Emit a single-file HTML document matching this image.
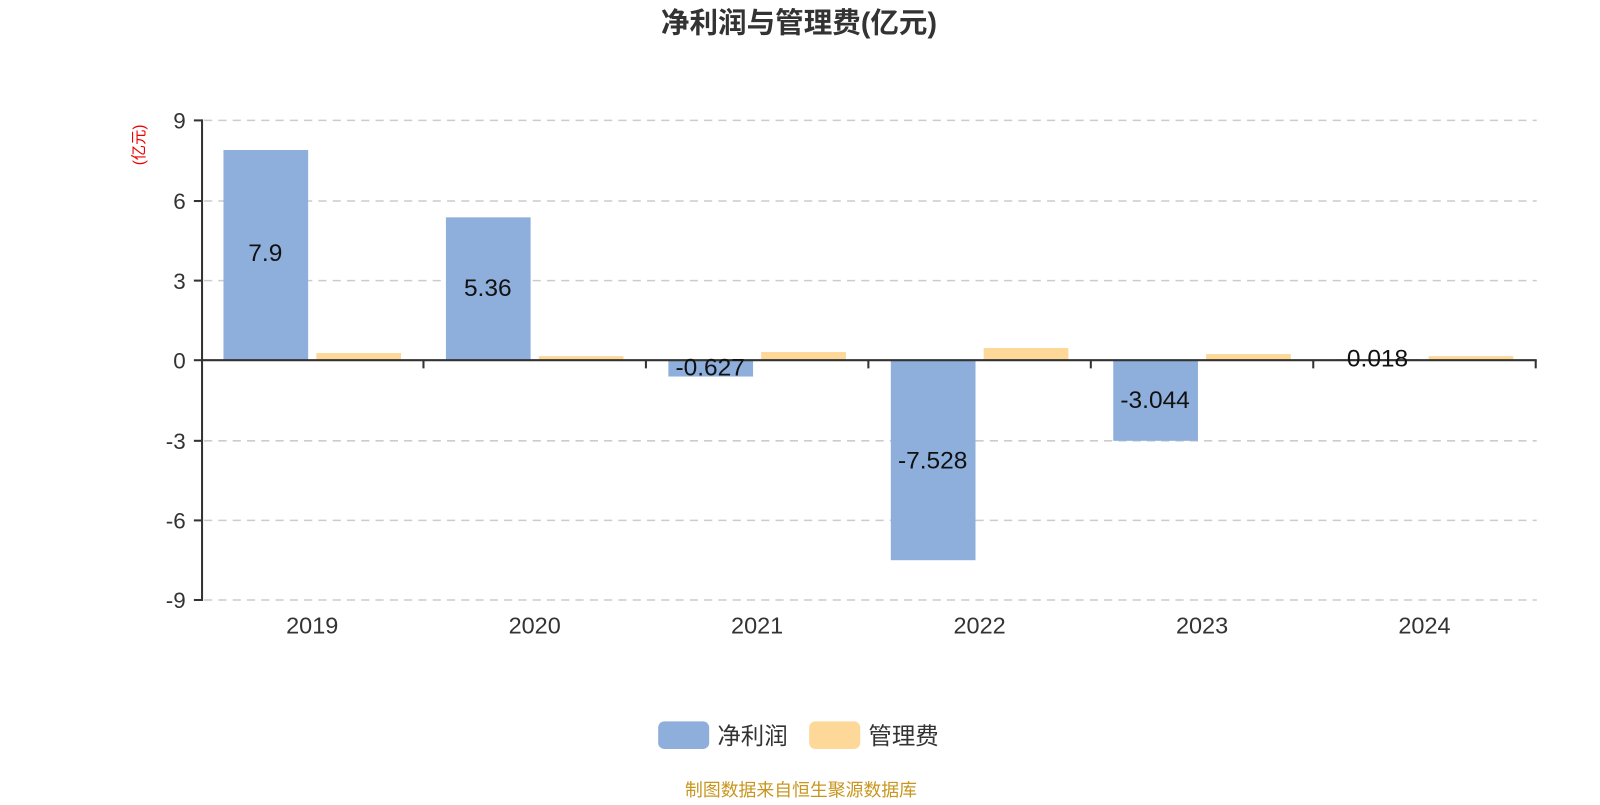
<!DOCTYPE html>
<html><head><meta charset="utf-8"><style>
body{margin:0;background:#fff;}
svg text{font-family:"Liberation Sans","Noto Sans CJK SC",sans-serif;}
</style></head><body>
<svg width="1600" height="800" viewBox="0 0 1568 784" xmlns="http://www.w3.org/2000/svg">
<text x="783" y="32" text-anchor="middle" font-size="28" font-weight="bold" fill="#333">净利润与管理费(亿元)</text>
<text transform="translate(141,142) rotate(-90)" text-anchor="middle" font-size="15" fill="#e00">(亿元)</text>
<g stroke="#ccc" stroke-dasharray="8,6" stroke-width="1.5">
<line x1="200" y1="118" x2="1506" y2="118"/><line x1="200" y1="197" x2="1506" y2="197"/>
<line x1="200" y1="275" x2="1506" y2="275"/><line x1="200" y1="432" x2="1506" y2="432"/>
<line x1="200" y1="510" x2="1506" y2="510"/><line x1="200" y1="588" x2="1506" y2="588"/>
</g>
<g fill="#8eafdb">
<rect x="219" y="147" width="83" height="206"/>
<rect x="437" y="213" width="83" height="140"/>
<rect x="655" y="353" width="83" height="16"/>
<rect x="873" y="353" width="83" height="196"/>
<rect x="1091" y="353" width="83" height="79"/>
<rect x="1309" y="352" width="83" height="1"/>
</g>
<g fill="#fdd898">
<rect x="310" y="346" width="83" height="7"/>
<rect x="528" y="349" width="83" height="4"/>
<rect x="746" y="345" width="83" height="8"/>
<rect x="964" y="341" width="83" height="12"/>
<rect x="1182" y="347" width="83" height="6"/>
<rect x="1400" y="349" width="83" height="4"/>
</g>
<g stroke="#333" stroke-width="2">
<line x1="198" y1="117" x2="198" y2="589"/>
<line x1="197" y1="353" x2="1506" y2="353"/>
<line x1="190" y1="118" x2="198" y2="118"/><line x1="190" y1="197" x2="198" y2="197"/>
<line x1="190" y1="275" x2="198" y2="275"/><line x1="190" y1="353" x2="198" y2="353"/>
<line x1="190" y1="432" x2="198" y2="432"/><line x1="190" y1="510" x2="198" y2="510"/>
<line x1="190" y1="588" x2="198" y2="588"/>
<line x1="415" y1="353" x2="415" y2="361"/><line x1="633" y1="353" x2="633" y2="361"/>
<line x1="851" y1="353" x2="851" y2="361"/><line x1="1069" y1="353" x2="1069" y2="361"/>
<line x1="1287" y1="353" x2="1287" y2="361"/><line x1="1505" y1="353" x2="1505" y2="361"/>
</g>
<g font-size="22" fill="#333" text-anchor="end">
<text x="182" y="126">9</text><text x="182" y="205">6</text><text x="182" y="283">3</text>
<text x="182" y="361">0</text><text x="182" y="440">-3</text><text x="182" y="518">-6</text>
<text x="182" y="596">-9</text>
</g>
<g font-size="23" fill="#333" text-anchor="middle">
<text x="306" y="621">2019</text><text x="524" y="621">2020</text><text x="742" y="621">2021</text>
<text x="960" y="621">2022</text><text x="1178" y="621">2023</text><text x="1396" y="621">2024</text>
</g>
<g font-size="24" fill="#111" text-anchor="middle">
<text x="260" y="256">7.9</text><text x="478" y="290">5.36</text><text x="696" y="368">-0.627</text>
<text x="914" y="459">-7.528</text><text x="1132" y="400">-3.044</text><text x="1350" y="359">0.018</text>
</g>
<rect x="645" y="707" width="50" height="27" rx="6" fill="#8eafdb"/>
<text x="703" y="729" font-size="23" fill="#333">净利润</text>
<rect x="793" y="707" width="50" height="27" rx="6" fill="#fdd898"/>
<text x="851" y="729" font-size="23" fill="#333">管理费</text>
<text x="785" y="780" text-anchor="middle" font-size="17.5" fill="#c8961e">制图数据来自恒生聚源数据库</text>
</svg>
</body></html>
